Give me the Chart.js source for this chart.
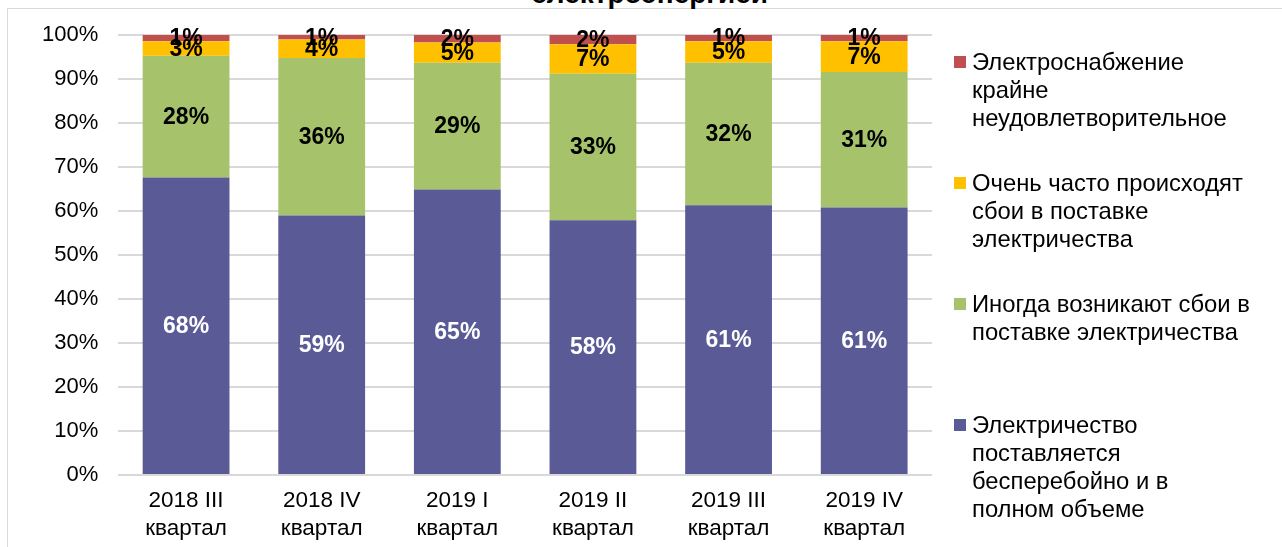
<!DOCTYPE html>
<html>
<head>
<meta charset="utf-8">
<script src="https://cdn.jsdelivr.net/npm/chart.js@4.4.1/dist/chart.umd.min.js"></script>
<style>
  html, body { margin: 0; padding: 0; background: #fff; }
  body { width: 1282px; height: 547px; position: relative; overflow: hidden;
         font-family: "Liberation Sans", Arial, sans-serif; }
  #frame { position: absolute; left: 7px; top: 8px; width: 1300px; height: 600px;
           border: 1px solid #d9d9d9; box-sizing: border-box; }
  #title { position: absolute; left: 0; width: 1300px; top: -21px; text-align: center;
           font-weight: bold; font-size: 28px; line-height: 30px; color: #000; }
  #chart { position: absolute; left: 0; top: 0; width: 1282px; height: 547px; }
  #legend { position: absolute; left: 954px; top: 48px; }
  .item { position: relative; height: 121px; }
  .item span.box { position: absolute; left: 0; top: 8px; width: 12px; height: 12px; }
  .item span.txt { position: absolute; left: 18px; top: 0; white-space: pre; font-size: 23.8px;
                   line-height: 28px; color: #000; }
</style>
</head>
<body>
<div id="frame"></div>
<div id="title">электроэнергией</div>
<canvas id="chart" width="1282" height="547"></canvas>
<div id="legend"></div>
<script>
// данные
const quarters = [["2018 III", "квартал"], ["2018 IV", "квартал"], ["2019 I", "квартал"],
                  ["2019 II", "квартал"], ["2019 III", "квартал"], ["2019 IV", "квартал"]];
const noInterruptions = [67.6, 59.0, 64.9, 57.9, 61.3, 60.8];
const sometimesFails  = [27.7, 35.8, 28.8, 33.3, 32.4, 30.8];
const oftenFails      = [3.3, 4.2, 4.6, 6.7, 4.9, 7.0];
const veryPoor        = [1.4, 1.0, 1.7, 2.1, 1.4, 1.4];
const yTicks = [0, 10, 20, 30, 40, 50, 60, 70, 80, 90, 100];

const seriesNames = [
  "Электричество\nпоставляется\nбесперебойно и в\nполном объеме",
  "Иногда возникают сбои в\nпоставке электричества",
  "Очень часто происходят\nсбои в поставке\nэлектричества",
  "Электроснабжение\nкрайне\nнеудовлетворительное"
];
const colors = ["#5a5b96", "#a6c36b", "#ffc000", "#c0504d"];
const values = [noInterruptions, sometimesFails, oftenFails, veryPoor];

const FONT = "'Liberation Sans', Arial, sans-serif";

// подписи значений
const valueLabels = {
  id: "valueLabels",
  afterDatasetsDraw(chart) {
    const ctx = chart.ctx;
    ctx.save();
    ctx.font = "bold 23px " + FONT;
    ctx.textAlign = "center";
    ctx.textBaseline = "middle";
    chart.data.datasets.forEach((ds, i) => {
      const meta = chart.getDatasetMeta(i);
      meta.data.forEach((bar, j) => {
        ctx.fillStyle = i === 0 ? "#fff" : "#000";
        ctx.fillText(Math.round(ds.data[j]) + "%", bar.x, (bar.y + bar.base) / 2 + 1);
      });
    });
    ctx.restore();
  }
};

new Chart(document.getElementById("chart"), {
  type: "bar",
  data: {
    labels: quarters,
    datasets: values.map((v, i) => ({
      label: seriesNames[i],
      data: v,
      backgroundColor: colors[i],
      borderWidth: 0,
      categoryPercentage: 1,
      barPercentage: 0.64
    }))
  },
  options: {
    responsive: false,
    animation: false,
    devicePixelRatio: 1,
    layout: { padding: { left: 22, right: 350, top: 35, bottom: -8 } },
    scales: {
      x: {
        stacked: true,
        grid: { display: false, drawTicks: false },
        border: { display: false },
        ticks: { color: "#000", font: { family: FONT, size: 22.5, lineHeight: 28 / 22.5 },
                 padding: 12, maxRotation: 0, autoSkip: false }
      },
      y: {
        stacked: true,
        min: 0, max: 100,
        afterBuildTicks: axis => { axis.ticks = yTicks.map(v => ({ value: v })); },
        grid: { color: "#d9d9d9", lineWidth: 2, drawTicks: false },
        border: { display: false },
        ticks: { color: "#000", font: { family: FONT, size: 22 }, padding: 20,
                 callback: v => v + "%" }
      }
    },
    plugins: {
      legend: { display: false },
      tooltip: { enabled: false }
    }
  },
  plugins: [valueLabels]
});

// легенда
const legend = document.getElementById("legend");
for (let i = values.length - 1; i >= 0; i--) {
  const item = document.createElement("div");
  item.className = "item";
  item.innerHTML = '<span class="box" style="background:' + colors[i] + '"></span>' +
                   '<span class="txt"></span>';
  item.querySelector(".txt").textContent = seriesNames[i];
  legend.appendChild(item);
}
</script>
</body>
</html>
